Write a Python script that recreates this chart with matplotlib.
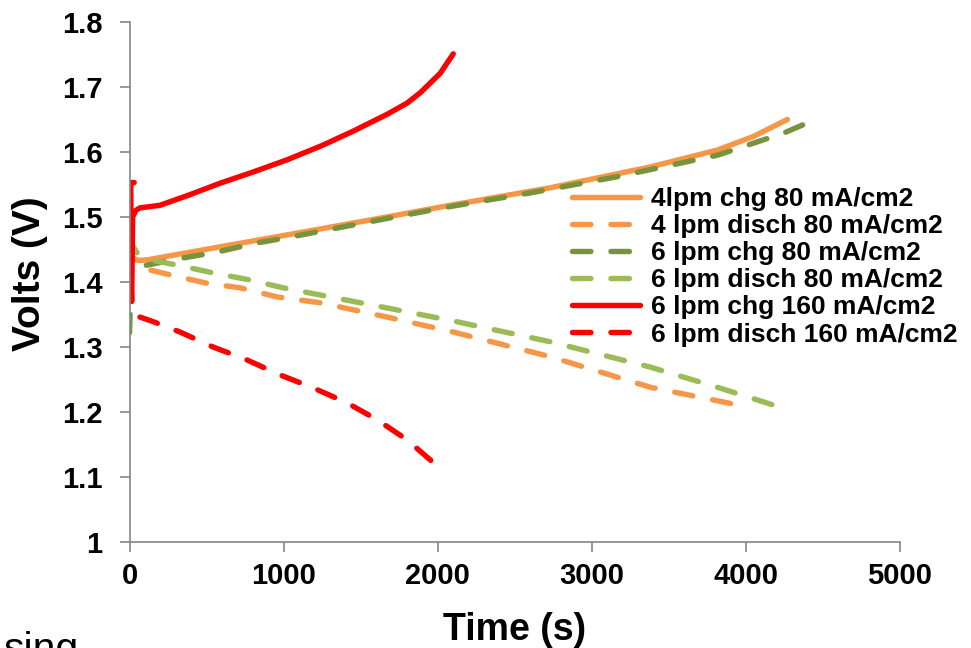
import matplotlib
matplotlib.use("Agg")
import matplotlib.pyplot as plt

plt.rcParams['font.family'] = ['Liberation Sans', 'DejaVu Sans']
plt.rcParams['font.weight'] = 'bold'

# data (time in s, volts)
t_4chg = [0, 10, 60, 113, 633, 1107, 1600, 2081, 2731, 3380, 3815, 4050, 4269]
v_4chg = [1.43, 1.437, 1.433, 1.434, 1.456, 1.476, 1.497, 1.518, 1.545, 1.577, 1.603, 1.624, 1.65]

t_4dis = [0, 15, 50, 88, 263, 503, 717, 958, 1237, 1672, 2101, 2731, 3380, 3945]
v_4dis = [1.52, 1.44, 1.43, 1.421, 1.411, 1.398, 1.391, 1.377, 1.368, 1.346, 1.323, 1.285, 1.238, 1.211]

t_6chg = [0, 10, 50, 350, 567, 826, 1042, 1500, 2081, 2600, 3166, 3815, 4244, 4451]
v_6chg = [1.322, 1.41, 1.423, 1.437, 1.446, 1.46, 1.469, 1.49, 1.516, 1.537, 1.562, 1.595, 1.629, 1.65]

t_6dis = [0, 10, 48, 133, 308, 542, 782, 997, 1237, 1672, 2101, 2731, 3380, 3815, 4214]
v_6dis = [1.53, 1.46, 1.445, 1.434, 1.426, 1.414, 1.403, 1.391, 1.38, 1.36, 1.34, 1.308, 1.269, 1.238, 1.208]

t_6chg160 = [30, 8, 10, 14, 20, 40, 68, 198, 400, 588, 800, 1023, 1250, 1451, 1672, 1800, 1886, 2016, 2101]
v_6chg160 = [1.553, 1.553, 1.40, 1.37, 1.50, 1.51, 1.514, 1.518, 1.535, 1.552, 1.569, 1.588, 1.61, 1.632, 1.658, 1.675, 1.691, 1.721, 1.751]

t_6dis160 = [68, 153, 328, 542, 763, 977, 1192, 1412, 1607, 1802, 2040]
v_6dis160 = [1.346, 1.339, 1.323, 1.30, 1.28, 1.257, 1.237, 1.214, 1.188, 1.157, 1.108]

labels = ['4lpm chg 80 mA/cm2', '4 lpm disch 80 mA/cm2', '6 lpm chg 80 mA/cm2',
          '6 lpm disch 80 mA/cm2', '6 lpm chg 160 mA/cm2', '6 lpm disch 160 mA/cm2']

orange = '#F79646'
dkgreen = '#77933C'
ltgreen = '#9BBB59'
red = '#FF0000'

fig = plt.figure(figsize=(9.71, 6.48), dpi=100)
ax = fig.add_axes([0.1334, 0.1636, 0.7935, 0.8025])

lw = 3.9
dash = (3.4, 3.7)
ax.plot(t_4chg, v_4chg, color=orange, lw=lw, solid_capstyle='round', label=labels[0])
ax.plot(t_4dis, v_4dis, color=orange, lw=lw, dashes=dash, dash_capstyle='round', label=labels[1])
ax.plot(t_6chg, v_6chg, color=dkgreen, lw=lw, dashes=dash, dash_capstyle='round', label=labels[2])
ax.plot(t_6dis, v_6dis, color=ltgreen, lw=lw, dashes=dash, dash_capstyle='round', label=labels[3])
ax.plot(t_6chg160, v_6chg160, color=red, lw=lw, solid_capstyle='round', label=labels[4])
ax.plot(t_6dis160, v_6dis160, color=red, lw=lw, dashes=dash, dash_capstyle='round', label=labels[5])

ax.set_xlim(0, 5000)
ax.set_ylim(1.0, 1.8)
ax.set_xticks([0, 1000, 2000, 3000, 4000, 5000])
ax.set_yticks([1.0, 1.1, 1.2, 1.3, 1.4, 1.5, 1.6, 1.7, 1.8])
ax.set_yticklabels(['1', '1.1', '1.2', '1.3', '1.4', '1.5', '1.6', '1.7', '1.8'])

for s in ['top', 'right']:
    ax.spines[s].set_visible(False)
for s in ['left', 'bottom']:
    ax.spines[s].set_color('#868686')
    ax.spines[s].set_linewidth(1.2)
ax.tick_params(axis='both', direction='out', length=7.5, width=1.2, color='#868686',
               labelsize=21, labelcolor='black')
ax.tick_params(axis='y', pad=12)
ax.tick_params(axis='x', pad=7)

ax.set_xlabel('Time (s)', fontsize=27, fontweight='bold', labelpad=15.5)
ax.set_ylabel('Volts (V)', fontsize=28, fontweight='bold', labelpad=10)
ax.yaxis.label.set_y(0.515)

leg = ax.legend(loc='upper left', bbox_to_anchor=(0.574, 0.683), frameon=False,
                fontsize=19, handlelength=2.6, handletextpad=0.4,
                labelspacing=0.12, borderpad=0, borderaxespad=0)

fig.text(0.004, -0.02, 'sing', fontsize=29.5, fontweight='normal', va='baseline', ha='left')

fig.savefig('out.png', dpi=100)
